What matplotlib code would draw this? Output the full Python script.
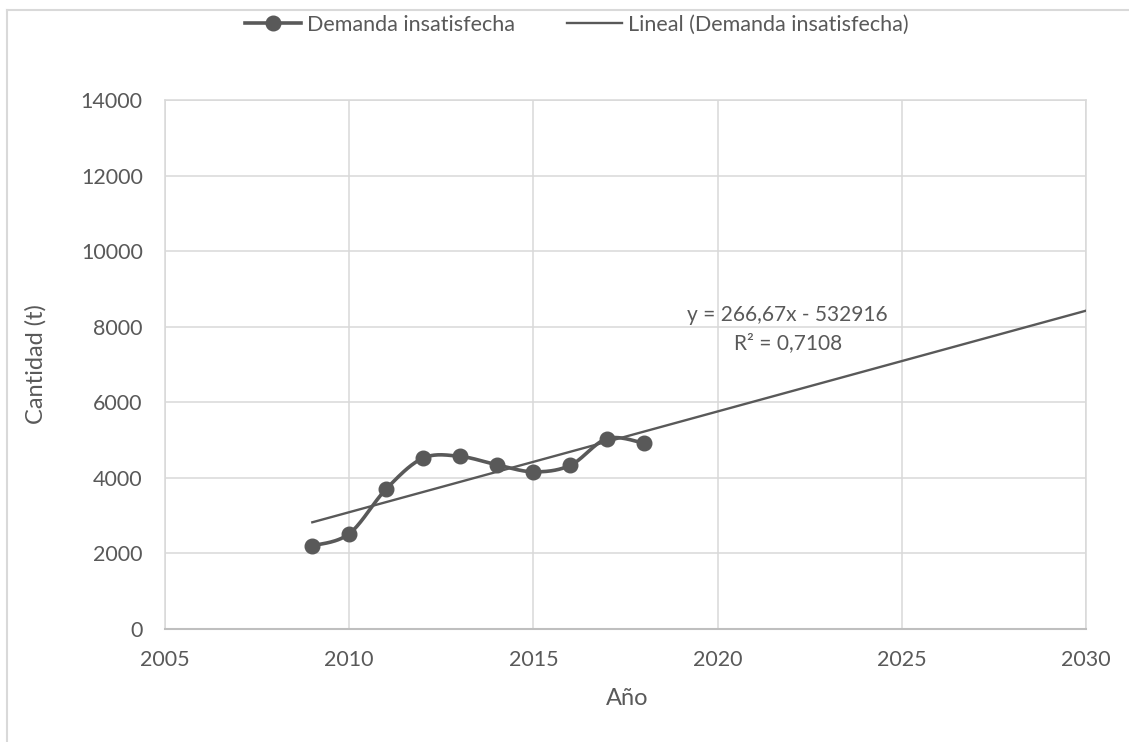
import numpy as np
import matplotlib
matplotlib.use("Agg")
import matplotlib.pyplot as plt
from matplotlib.lines import Line2D

# data
years = [2009, 2010, 2011, 2012, 2013, 2014, 2015, 2016, 2017, 2018]
demanda = [2200, 2520, 3700, 4520, 4570, 4350, 4160, 4330, 5040, 4920]

# Excel linear trendline, forecast forward to 2030
slope = 266.67
intercept = -532916
trend_years = [2009, 2030]
eq_text = "y = 266,67x - 532916\nR² = 0,7108"

GRAY = "#595959"
GRID = "#d9d9d9"

plt.rcParams["font.family"] = ["Lato", "DejaVu Sans"]


def smooth(xs, ys, n=30):
    # Excel-style smoothed line: cubic Bezier with Catmull-Rom control points
    p = np.column_stack([xs, ys]).astype(float)
    out = []
    for i in range(len(p) - 1):
        p0 = p[i - 1] if i > 0 else p[i]
        p1, p2 = p[i], p[i + 1]
        p3 = p[i + 2] if i + 2 < len(p) else p[i + 1]
        c1 = p1 + (p2 - p0) / 6
        c2 = p2 - (p3 - p1) / 6
        t = np.linspace(0, 1, n)[:, None]
        seg = (1 - t) ** 3 * p1 + 3 * (1 - t) ** 2 * t * c1 + 3 * (1 - t) * t ** 2 * c2 + t ** 3 * p2
        out.append(seg if i == 0 else seg[1:])
    s = np.vstack(out)
    return s[:, 0], s[:, 1]


fig = plt.figure(figsize=(11.29, 7.42), dpi=100)
ax = fig.add_axes([0.1461, 0.1523, 0.8158, 0.7129])

sx, sy = smooth(years, demanda)
ax.plot(sx, sy, color=GRAY, linewidth=2.6, solid_capstyle="round", zorder=3)
ax.plot(years, demanda, linestyle="none", marker="o", markersize=10.5, color=GRAY, zorder=4)

tx = np.array(trend_years, dtype=float)
ax.plot(tx, slope * tx + intercept, color=GRAY, linewidth=1.7, zorder=3)

ax.text(2021.9, 7940, eq_text, ha="center", va="center", fontsize=15,
        color=GRAY, linespacing=1.55)

ax.set_xlim(2005, 2030)
ax.set_ylim(0, 14000)
ax.set_xticks(range(2005, 2031, 5))
ax.set_yticks(range(0, 14001, 2000))
ax.grid(True, color=GRID, linewidth=1.1)
ax.set_axisbelow(True)
for name, sp in ax.spines.items():
    sp.set_color(GRID)
    sp.set_linewidth(1.1)
ax.spines["bottom"].set_color("#bfbfbf")
ax.spines["bottom"].set_linewidth(1.5)
ax.tick_params(length=0, labelsize=15.5, colors=GRAY)
ax.tick_params(axis="x", pad=15)
ax.tick_params(axis="y", pad=16)

ax.set_xlabel("Año", fontsize=17, color=GRAY, va="center")
ax.set_ylabel("Cantidad (t)", fontsize=17, color=GRAY, va="center")
ax.xaxis.set_label_coords((627 - 165) / 921, (629 - 699) / 529)
ax.yaxis.set_label_coords((36 - 165) / 921, 0.5)

handles = [
    Line2D([], [], color=GRAY, linewidth=2.6, marker="o", markersize=10.5),
    Line2D([], [], color=GRAY, linewidth=1.7),
]
labels = ["Demanda insatisfecha", "Lineal (Demanda insatisfecha)"]
fig.legend(handles, labels, loc="center", bbox_to_anchor=(577 / 1129, 1 - 25 / 742),
           ncol=2, frameon=False, fontsize=15.5, labelcolor=GRAY,
           handlelength=2.6, handletextpad=0.25, columnspacing=2.4)

# light chart-area border (top and left edges visible in the reference)
fig.add_artist(Line2D([7 / 1129, 1], [1 - 10 / 742, 1 - 10 / 742],
                      transform=fig.transFigure, color=GRID, linewidth=1.5))
fig.add_artist(Line2D([7 / 1129, 7 / 1129], [0, 1 - 10 / 742],
                      transform=fig.transFigure, color=GRID, linewidth=1.5))

fig.savefig("out.png", dpi=100, facecolor="white")
